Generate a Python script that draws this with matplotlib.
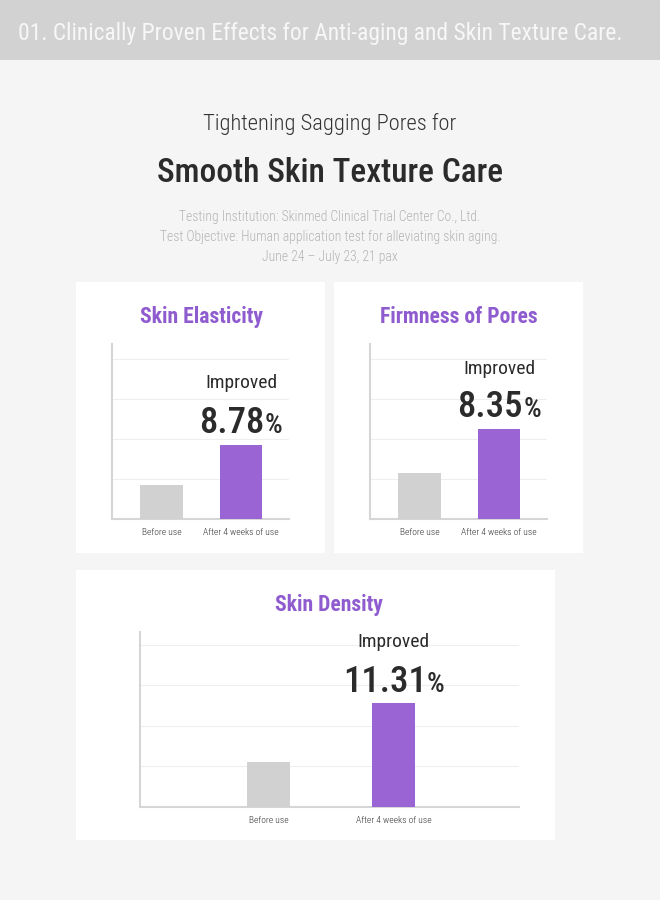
import matplotlib
matplotlib.use("Agg")
import matplotlib.pyplot as plt
from matplotlib.patches import Rectangle
from matplotlib.transforms import ScaledTranslation

# ---------------- data ----------------
header = "01. Clinically Proven Effects for Anti-aging and Skin Texture Care."
subtitle1 = "Tightening Sagging Pores for"
subtitle2 = "Smooth Skin Texture Care"
info_lines = ["Testing Institution: Skinmed Clinical Trial Center Co., Ltd.",
              "Test Objective: Human application test for alleviating skin aging.",
              "June 24 \u2013 July 23, 21 pax"]
categories = ["Before use", "After 4 weeks of use"]
chart_titles = ["Skin Elasticity", "Firmness of Pores", "Skin Density"]
values_elasticity = [0.85, 1.85]
values_pores = [1.15, 2.25]
values_density = [1.11, 2.57]
improvements = ["8.78", "8.35", "11.31"]

# ---------------- style ----------------
W, H = 660, 900
BG = "#f5f5f5"
HEADER_BG = "#d2d2d2"
PURPLE = "#9a64d5"
TITLE_PURPLE = "#8f5ccf"
GRAY_BAR = "#d1d1d1"
DARK = "#2b2b2b"
FONT = "Roboto Condensed"

fig = plt.figure(figsize=(W / 100, H / 100), dpi=100)
fig.patch.set_facecolor(BG)


def fx(x):
    return x / W


def fy(y):
    return 1 - y / H


def rect(x0, y0, x1, y1, color):
    fig.add_artist(Rectangle((fx(x0), fy(y1)), fx(x1) - fx(x0), fy(y0) - fy(y1),
                             transform=fig.transFigure, facecolor=color,
                             edgecolor="none", zorder=0))


# header bar
rect(0, 0, W, 60, HEADER_BG)
fig.text(fx(18), fy(40), header, family=FONT, fontsize=16.95, color="#f7f7f7",
         ha="left", va="baseline")

# headings
fig.text(0.5, fy(130), subtitle1, family=FONT, weight=300, fontsize=16.2,
         color="#333333", ha="center", va="baseline")
fig.text(0.5, fy(182), subtitle2, family=FONT, weight=500, fontsize=24,
         color=DARK, ha="center", va="baseline")
for i, line in enumerate(info_lines):
    fig.text(0.5, fy(221 + 20 * i), line, family=FONT, weight=300, fontsize=9.8,
             color="#b3b3b3", ha="center", va="baseline")

# panels
rect(76, 282, 325, 553, "white")
rect(334, 282, 583, 553, "white")
rect(76, 570, 555, 840, "white")

panels = [
    dict(box=(112, 344, 289, 519), xlim=(-0.623, 1.604), ylim=(0, 4.375), bw=0.54,
         title=(201, 323), vals=values_elasticity, imp_y=3.275, num_y=2.15),
    dict(box=(370, 344, 547, 519), xlim=(-0.623, 1.604), ylim=(0, 4.375), bw=0.54,
         title=(459, 323), vals=values_pores, imp_y=3.625, num_y=2.55),
    dict(box=(140, 632, 519, 807), xlim=(-1.028, 2.004), ylim=(0, 4.32), bw=0.344,
         title=(329, 611), vals=values_density, imp_y=3.95, num_y=2.84),
]

num_texts = []
for i, p in enumerate(panels):
    x0, yt, x1, yb = p["box"]
    ax = fig.add_axes([fx(x0), fy(yb), fx(x1) - fx(x0), fy(yt) - fy(yb)])
    ax.set_facecolor("none")
    xs = list(range(len(categories)))
    ax.bar(xs, p["vals"], width=p["bw"], color=[GRAY_BAR, PURPLE], zorder=3)
    ax.set_xlim(*p["xlim"])
    ax.set_ylim(*p["ylim"])
    ax.set_yticks([1, 2, 3, 4])
    ax.yaxis.grid(True, color="#eeeeee", linewidth=0.8, zorder=0)
    ax.tick_params(axis="y", left=False, labelleft=False)
    ax.set_xticks(xs)
    ax.set_xticklabels(categories, family=FONT, weight=300, fontsize=6.8, color="#333333")
    ax.tick_params(axis="x", length=0, pad=6.5)
    for s in ["top", "right"]:
        ax.spines[s].set_visible(False)
    for s in ["left", "bottom"]:
        ax.spines[s].set_color("#d6d6d6")
        ax.spines[s].set_linewidth(1.5)
    fig.text(fx(p["title"][0]), fy(p["title"][1]), chart_titles[i], family=FONT,
             weight=700, fontsize=15.6, color=TITLE_PURPLE, ha="center", va="baseline")
    ax.text(1, p["imp_y"], "Improved", family=FONT, fontsize=14, color=DARK,
            ha="center", va="baseline", clip_on=False)
    t = ax.text(1, p["num_y"], improvements[i], family=FONT, weight=500, fontsize=26.5,
                color=DARK, ha="center", va="baseline", clip_on=False)
    num_texts.append((ax, t, p["num_y"]))

fig.canvas.draw()
r = fig.canvas.get_renderer()
for ax, t, y in num_texts:
    bb = t.get_window_extent(r)
    xr = ax.transData.inverted().transform((bb.x1 + 0.3, bb.y0))[0]
    pct = ax.text(xr, y, "%", family=FONT, weight=500, fontsize=20, color=DARK,
                  ha="left", va="baseline", clip_on=False)
    wp = pct.get_window_extent(r).width
    shift = ScaledTranslation(-wp / 2 / fig.dpi, 0, fig.dpi_scale_trans)
    t.set_transform(ax.transData + shift)
    pct.set_transform(ax.transData + shift)

fig.savefig("out.png", dpi=100, facecolor=BG)
